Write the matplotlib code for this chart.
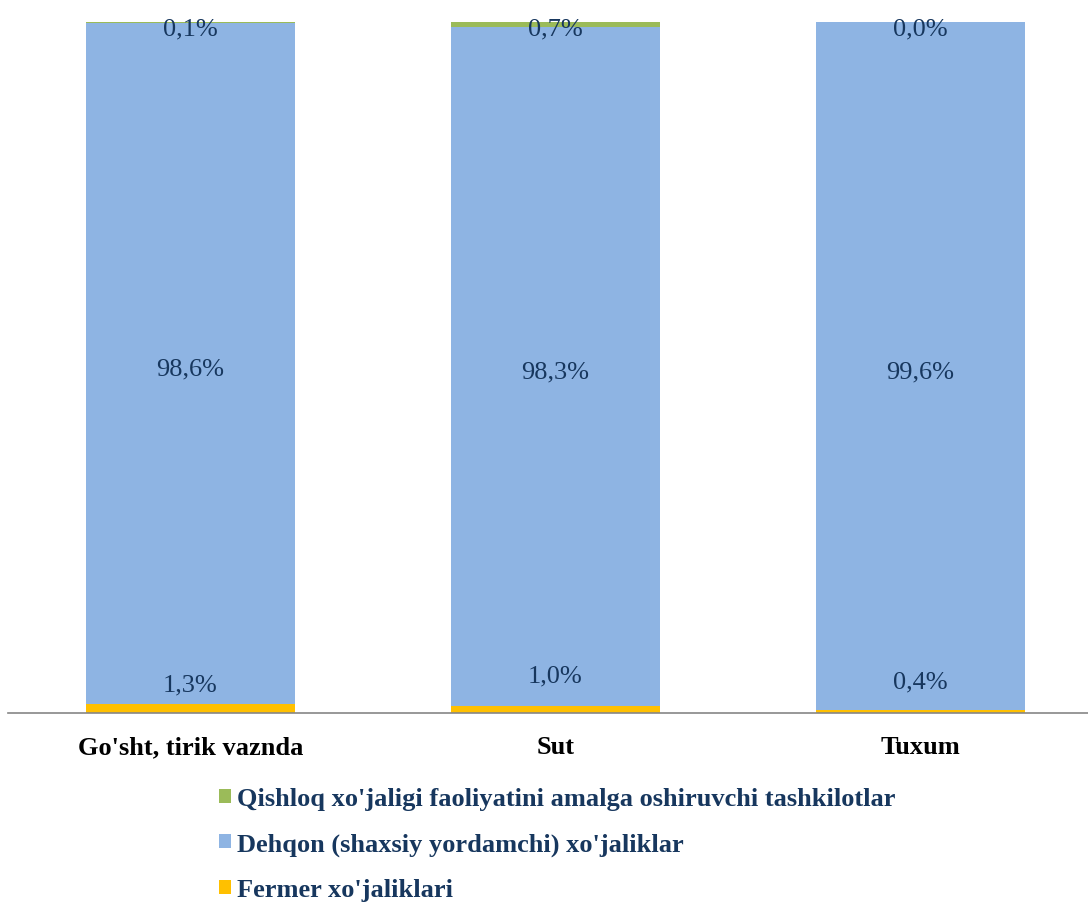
import matplotlib.pyplot as plt
import numpy as np

categories = ["Go'sht, tirik vaznda", "Sut", "Tuxum"]
fermer = [1.3, 1.0, 0.4]
dehqon = [98.6, 98.3, 99.6]
qishloq = [0.1, 0.7, 0.0]

series_names = ["Fermer xo'jaliklari",
                "Dehqon (shaxsiy yordamchi) xo'jaliklar",
                "Qishloq xo'jaligi faoliyatini amalga oshiruvchi tashkilotlar"]

colors = ["#FFC000", "#8EB4E3", "#9BBB59"]
navy = "#17375E"
serif = ["Liberation Serif", "DejaVu Serif"]

# label offsets for the small bottom segment (points above bar base)
bottom_offsets = [14, 22, 21]

fig = plt.figure(figsize=(10.88, 9.03), dpi=100)
ax = fig.add_axes([8 / 1088, 1 - 714 / 903, 1080 / 1088, 691 / 903])

x = np.arange(len(categories))
w = 0.573
ax.bar(x, fermer, w, color=colors[0], label=series_names[0])
ax.bar(x, dehqon, w, bottom=fermer, color=colors[1], label=series_names[1])
ax.bar(x, qishloq, w, bottom=np.add(fermer, dehqon), color=colors[2],
       label=series_names[2])

ax.set_xlim(-0.5, (1088 - 190) / 365)
ax.set_ylim(0, 100)

fs = 19
for i in range(len(categories)):
    ax.annotate(f"{fermer[i]:.1f}%".replace('.', ','), (x[i], fermer[i]),
                xytext=(0, bottom_offsets[i]), textcoords="offset points",
                ha='center', va='center', color=navy, fontsize=fs, family=serif)
    ax.annotate(f"{dehqon[i]:.1f}%".replace('.', ','), (x[i], fermer[i] + dehqon[i] / 2),
                xytext=(0, -3.5), textcoords="offset points",
                ha='center', va='center', color=navy, fontsize=fs, family=serif)
    ax.annotate(f"{qishloq[i]:.1f}%".replace('.', ','), (x[i], 100),
                xytext=(0, -4.5), textcoords="offset points",
                ha='center', va='center', color=navy, fontsize=fs, family=serif)

for s in ['top', 'right', 'left']:
    ax.spines[s].set_visible(False)
ax.spines['bottom'].set_color('#868686')
ax.spines['bottom'].set_linewidth(1.2)
ax.set_yticks([])
ax.set_xticks(x)
ax.set_xticklabels(categories, fontsize=19, fontweight='bold', family=serif)
ax.tick_params(axis='x', length=0, pad=16)

handles, labels = ax.get_legend_handles_labels()
leg = fig.legend(handles[::-1], labels[::-1], loc='upper left',
                 bbox_to_anchor=(206 / 1088, 1 - 775 / 903), frameon=False,
                 prop={'family': serif, 'weight': 'bold', 'size': 19},
                 handlelength=0.45, handleheight=0.45, handletextpad=0.22,
                 labelspacing=0.85, borderpad=0)
for t in leg.get_texts():
    t.set_color(navy)

fig.savefig("out.png", dpi=100)
